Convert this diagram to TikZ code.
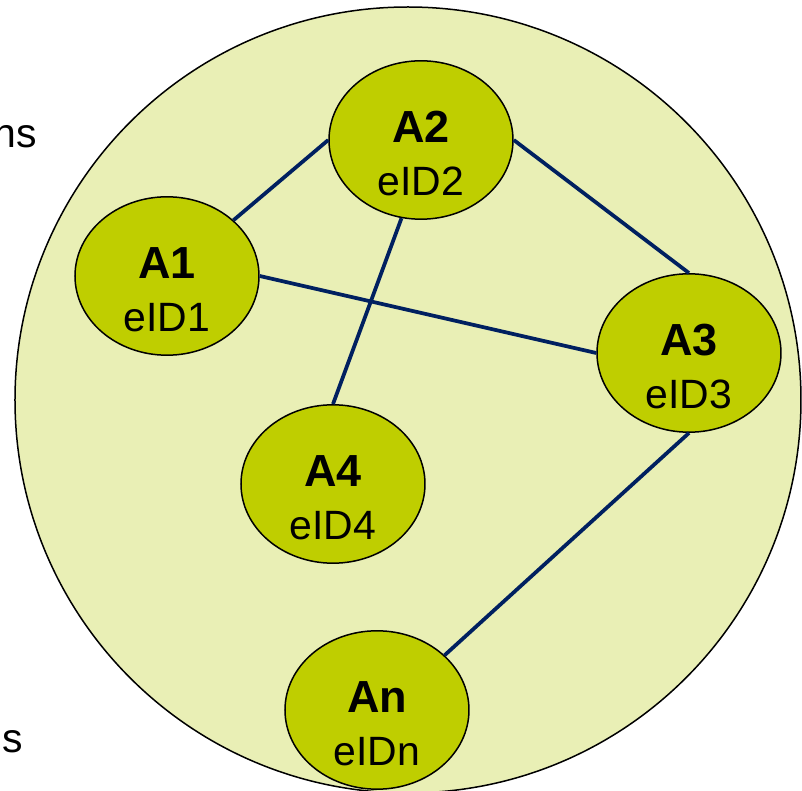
\documentclass[tikz,border=0pt]{standalone}
\usepackage{fontspec}
\setmainfont{Liberation Sans}
\usepackage{tikz}
\usetikzlibrary{shapes.geometric}

\definecolor{groupfill}{RGB}{233,239,181}
\definecolor{agentfill}{RGB}{191,206,0}
\definecolor{linkblue}{RGB}{0,32,96}

\tikzstyle{group} = [circle, draw=black, line width=0.03cm, fill=groupfill, minimum size=15.72cm, inner sep=0pt]
\tikzstyle{agent} = [ellipse, draw=black, line width=0.03cm, fill=agentfill, minimum width=3.68cm, minimum height=2.92cm, inner sep=0pt, align=center, font=\fontsize{23.3}{30.2}\selectfont, text height=2.24cm, text depth=0cm]
\tikzstyle{link} = [draw=linkblue, line width=0.075cm]
\tikzstyle{edge text} = [font=\fontsize{23.3}{28}\selectfont, inner sep=0pt, anchor=base east]

\newcommand{\agentid}[1]{{\fontsize{25.6}{30.2}\selectfont\bfseries #1}}

\begin{document}
\begin{tikzpicture}

\useasboundingbox (-8.16,-7.82) rectangle (7.88,8.0);

\node (group) [group] at (0,0) {};

\node (ns) [edge text] at (-7.42,5.04) {ns};
\node (s) [edge text] at (-7.7,-7.06) {s};

\node (a1) [agent] at (-4.82,2.48) {\agentid{A1}\\eID1};
\node (a2) [agent] at (0.26,5.2) {\agentid{A2}\\eID2};
\node (a3) [agent] at (5.62,0.94) {\agentid{A3}\\eID3};
\node (a4) [agent] at (-1.5,-1.68) {\agentid{A4}\\eID4};
\node (an) [agent] at (-0.62,-6.2) {\agentid{An}\\eIDn};

\draw[link] (a1.40) -- (a2.west);
\draw[link] (a2.east) -- (a3.north);
\draw[link] (a1.east) -- (a3.west);
\draw[link] (a2.256) -- (a4.north);
\draw[link] (a3.south) -- (an.39);

\end{tikzpicture}
\end{document}
